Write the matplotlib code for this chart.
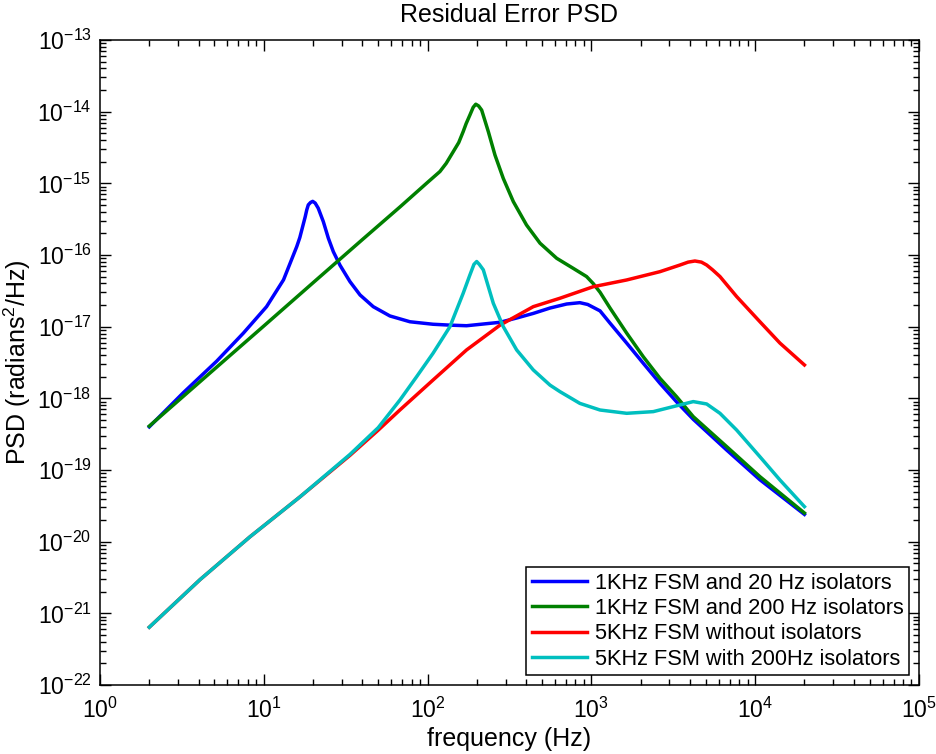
import numpy as np
import matplotlib
matplotlib.use("Agg")
import matplotlib.pyplot as plt
from matplotlib.ticker import LogLocator, NullFormatter, LogFormatterSciNotation

plt.rcParams['font.family'] = ['Liberation Sans', 'DejaVu Sans']
plt.rcParams['mathtext.fontset'] = 'custom'
plt.rcParams['mathtext.rm'] = 'Liberation Sans'
plt.rcParams['mathtext.it'] = 'Liberation Sans:italic'
plt.rcParams['mathtext.bf'] = 'Liberation Sans:bold'

# values (frequency in Hz, PSD in radians^2/Hz)
f_blue = [2, 3.23, 5.16, 7.5, 10.4, 13.2, 15.9, 16.6, 17.9, 18.3, 18.7, 19.3,
          19.9, 20.6, 21.5, 23.1, 24.8, 26.6, 29.2, 33.6, 38.7, 46.6, 58.9,
          78.1, 108, 137, 173, 277, 350, 442, 560, 707, 851, 950, 1130, 1300,
          1643, 2076, 2624, 3318, 4190, 6700, 10700, 20000]
psd_blue = [4.0e-19, 1.2e-18, 3.3e-18, 8.1e-18, 1.9e-17, 4.5e-17, 1.31e-16,
            1.75e-16, 3.4e-16, 4.25e-16, 5.0e-16, 5.4e-16, 5.6e-16, 5.3e-16,
            4.5e-16, 2.92e-16, 1.71e-16, 1.11e-16, 7.2e-17, 4.25e-17, 2.77e-17,
            1.9e-17, 1.41e-17, 1.17e-17, 1.08e-17, 1.05e-17, 1.03e-17,
            1.15e-17, 1.32e-17, 1.53e-17, 1.82e-17, 2.07e-17, 2.16e-17,
            2.04e-17, 1.66e-17, 1.12e-17, 5.9e-18, 3.08e-18, 1.62e-18, 8.9e-19,
            5.1e-19, 1.9e-19, 7.3e-20, 2.4e-20]

f_green = [2, 5, 10, 20, 40, 68, 100, 119, 130, 143.6, 155, 165, 172, 181.5,
           190, 197, 205, 214, 235, 258, 290, 334, 402, 486, 614, 776, 935,
           1028, 1130, 1300, 1643, 2076, 2624, 3318, 4190, 6700, 10700, 20000]
psd_green = [4.1e-19, 2.56e-18, 1.02e-17, 4.1e-17, 1.64e-16, 4.7e-16, 1.03e-15,
             1.46e-15, 1.9e-15, 2.77e-15, 3.7e-15, 5.26e-15, 6.8e-15, 9.0e-15,
             1.15e-14, 1.27e-14, 1.2e-14, 1.05e-14, 5.26e-15, 2.48e-15,
             1.17e-15, 5.55e-16, 2.62e-16, 1.46e-16, 9.0e-17, 6.5e-17, 5.0e-17,
             3.98e-17, 3.02e-17, 1.82e-17, 8.13e-18, 3.8e-18, 1.9e-18,
             1.05e-18, 5.55e-19, 2.12e-19, 8.07e-20, 2.51e-20]

f_red = [2, 4.08, 8.24, 16.6, 33.6, 50, 67.9, 108, 173, 277, 442, 643, 1028,
         1643, 2624, 3475, 3900, 4290, 4700, 5060, 5500, 6100, 7710, 10700,
         14170, 20000]
psd_red = [6.4e-22, 2.95e-21, 1.17e-20, 4.2e-20, 1.6e-19, 3.6e-19, 6.9e-19,
           1.8e-18, 4.73e-18, 1.05e-17, 1.9e-17, 2.49e-17, 3.61e-17, 4.48e-17,
           5.85e-17, 7.24e-17, 7.95e-17, 8.24e-17, 7.95e-17, 7.24e-17, 6.2e-17,
           5.0e-17, 2.63e-17, 1.17e-17, 5.9e-18, 2.92e-18]

f_cyan = [2, 4.08, 8.24, 16.6, 33.6, 50, 67.9, 85.7, 108, 137, 165, 181, 192,
          199.5, 207, 219, 252, 290, 350, 442, 559, 643, 851, 1130, 1643, 2388,
          3162, 4190, 5060, 6100, 7710, 10700, 14170, 20000]
psd_cyan = [6.4e-22, 2.95e-21, 1.17e-20, 4.2e-20, 1.65e-19, 3.9e-19, 9.5e-19,
            2.0e-18, 4.25e-18, 1.0e-17, 2.92e-17, 5.2e-17, 7.4e-17, 8.1e-17,
            7.4e-17, 6.2e-17, 2.12e-17, 1.0e-17, 4.73e-18, 2.49e-18, 1.53e-18,
            1.24e-18, 8.5e-19, 6.87e-19, 6.18e-19, 6.52e-19, 7.66e-19, 9.0e-19,
            8.34e-19, 6.18e-19, 3.61e-19, 1.53e-19, 7.26e-20, 3.08e-20]

labels = ['1KHz FSM and 20 Hz isolators', '1KHz FSM and 200 Hz isolators',
          '5KHz FSM without isolators', '5KHz FSM with 200Hz isolators']
colors = ['#0000ff', '#008000', '#ff0000', '#00bfbf']

x_ticks = [1e0, 1e1, 1e2, 1e3, 1e4, 1e5]
y_ticks = [1e-22, 1e-21, 1e-20, 1e-19, 1e-18, 1e-17, 1e-16, 1e-15, 1e-14, 1e-13]

fig = plt.figure(figsize=(9.37, 7.54), dpi=100)
ax = fig.add_axes([0.1067, 0.0915, 0.874, 0.8555])

for fx, py, lab, c in zip([f_blue, f_green, f_red, f_cyan],
                          [psd_blue, psd_green, psd_red, psd_cyan],
                          labels, colors):
    ax.loglog(fx, py, color=c, lw=2.5, label=lab, solid_joinstyle='round')

ax.set_xlim(1, 1e5)
ax.set_ylim(1e-22, 1e-13)
ax.set_xticks(x_ticks)
ax.set_yticks(y_ticks)
ax.xaxis.set_major_formatter(LogFormatterSciNotation())
ax.yaxis.set_major_formatter(LogFormatterSciNotation())
ax.xaxis.set_minor_locator(LogLocator(base=10, subs=np.arange(2, 10), numticks=20))
ax.yaxis.set_minor_locator(LogLocator(base=10, subs=np.arange(2, 10), numticks=20))
ax.xaxis.set_minor_formatter(NullFormatter())
ax.yaxis.set_minor_formatter(NullFormatter())
ax.tick_params(which='both', direction='in', top=True, right=True,
               labelsize=16.5, width=1)
ax.tick_params(which='major', length=8)
ax.tick_params(axis='x', which='major', pad=9)
ax.tick_params(axis='y', which='major', pad=6)
ax.tick_params(which='minor', length=4)
for s in ax.spines.values():
    s.set_linewidth(1.1)

ax.set_title('Residual Error PSD', fontsize=18, pad=13)
ax.set_xlabel('frequency (Hz)', fontsize=18, labelpad=3)
ax.set_ylabel('PSD (radians$^2$/Hz)', fontsize=18, labelpad=3)

leg = ax.legend(loc='lower right', fontsize=15.7, fancybox=False, framealpha=1,
                edgecolor='black', borderaxespad=0.45, handlelength=2.55,
                labelspacing=0.2, borderpad=0.25, handletextpad=0.35)
leg.get_frame().set_linewidth(1.1)

fig.savefig('out.png', dpi=100)
